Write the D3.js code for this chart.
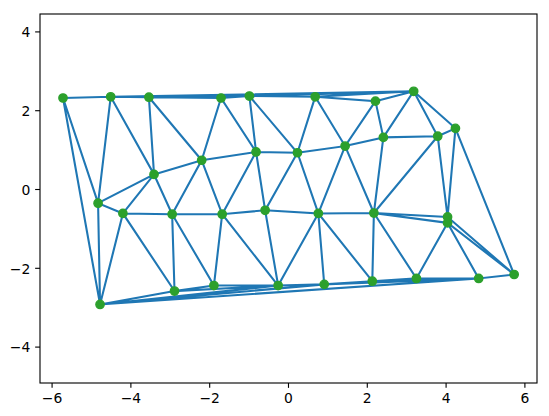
<!DOCTYPE html>
<html>
<head>
<meta charset="utf-8">
<script src="https://cdn.jsdelivr.net/npm/d3@7"></script>
<style>
  html, body { margin: 0; padding: 0; background: #fff; }
  svg { display: block; }
</style>
</head>
<body>
<svg id="chart" width="549" height="416"></svg>
<script>
// Point coordinates
const xs = [-5.71, -4.50, -3.53, -1.70, -0.98, 0.69, 2.22, 3.19,
            4.25, 3.80, 2.42, 1.45, 0.24, -0.81, -2.19, -3.40,
            -4.82, -4.19, -2.94, -1.67, -0.58, 0.77, 2.18, 4.05,
            4.05, 5.74, 4.84, 3.26, 2.14, 0.92, -0.25, -1.88,
            -2.88, -4.77];
const ys = [2.31, 2.34, 2.33, 2.31, 2.36, 2.34, 2.23, 2.48,
            1.54, 1.34, 1.31, 1.09, 0.92, 0.94, 0.73, 0.37,
            -0.36, -0.62, -0.64, -0.64, -0.54, -0.62, -0.61, -0.71,
            -0.86, -2.17, -2.27, -2.27, -2.34, -2.42, -2.45, -2.45,
            -2.59, -2.93];
const xTicks = [-6, -4, -2, 0, 2, 4, 6];
const yTicks = [-4, -2, 0, 2, 4];
const xDomain = [-6.294, 6.320];
const yDomain = [-4.924, 4.442];

const svg = d3.select("#chart");
const m = {left: 40, top: 14, width: 497, height: 369};

const x = d3.scaleLinear().domain(xDomain).range([m.left, m.left + m.width]);
const y = d3.scaleLinear().domain(yDomain).range([m.top + m.height, m.top]);

const pts = xs.map((v, i) => [v, ys[i]]);
const delaunay = d3.Delaunay.from(pts, d => x(d[0]), d => y(d[1]));

// Unique edges of the triangulation
const tris = delaunay.triangles;
const edgeSet = new Set();
const edges = [];
for (let t = 0; t < tris.length; t += 3) {
  const a = tris[t], b = tris[t + 1], c = tris[t + 2];
  [[a, b], [b, c], [c, a]].forEach(([i, j]) => {
    const key = i < j ? i + "-" + j : j + "-" + i;
    if (!edgeSet.has(key)) { edgeSet.add(key); edges.push([i, j]); }
  });
}

const g = svg.append("g");
g.append("path")
  .attr("d", edges.map(([i, j]) =>
    `M${x(xs[i])},${y(ys[i])}L${x(xs[j])},${y(ys[j])}`).join(""))
  .attr("fill", "none")
  .attr("stroke", "#1f77b4")
  .attr("stroke-width", 2.08)
  .attr("stroke-linecap", "square");

g.selectAll("circle").data(pts).join("circle")
  .attr("cx", d => x(d[0]))
  .attr("cy", d => y(d[1]))
  .attr("r", 4.17)
  .attr("fill", "#2ca02c")
  .attr("stroke", "#2ca02c")
  .attr("stroke-width", 1.39);

// Axes
const fmt = d => d < 0 ? "\u2212" + Math.abs(d) : String(d);
const xAxis = d3.axisBottom(x).tickValues(xTicks).tickFormat(fmt).tickSize(4.86).tickPadding(4.9);
const yAxis = d3.axisLeft(y).tickValues(yTicks).tickFormat(fmt).tickSize(4.86).tickPadding(4.9);

const gx = svg.append("g").attr("transform", `translate(0,${m.top + m.height})`).call(xAxis);
const gy = svg.append("g").attr("transform", `translate(${m.left},0)`).call(yAxis);
[gx, gy].forEach(a => {
  a.select(".domain").remove();
  a.selectAll(".tick line").attr("stroke", "#000").attr("stroke-width", 1.11);
  a.selectAll(".tick text")
    .attr("fill", "#000")
    .style("font-family", "'DejaVu Sans', sans-serif")
    .style("font-size", "13.9px");
});
gy.selectAll(".tick text").attr("dy", "0.38em");

svg.append("rect")
  .attr("x", m.left).attr("y", m.top)
  .attr("width", m.width).attr("height", m.height)
  .attr("fill", "none").attr("stroke", "#000").attr("stroke-width", 1.11);
</script>
</body>
</html>
